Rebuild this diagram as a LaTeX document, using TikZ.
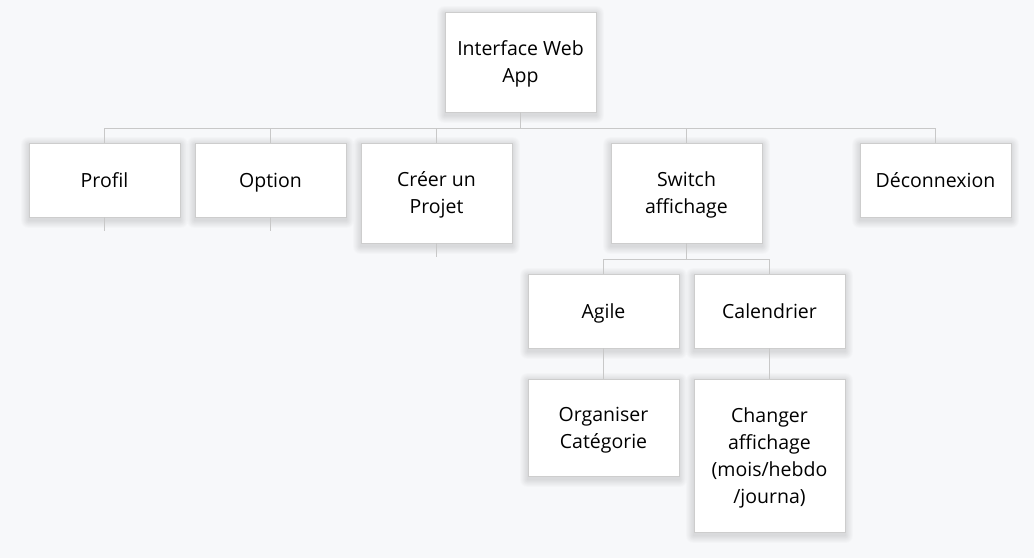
\documentclass[tikz,border=0pt]{standalone}
\usepackage{fontspec}
\setmainfont{Open Sans}
\definecolor{bg}{HTML}{F7F8FA}
\definecolor{edge}{HTML}{C8C8C8}
\definecolor{boxline}{HTML}{CDCDCD}
\definecolor{txt}{HTML}{000000}
\newcommand\sr{\rule[-4.5pt]{0pt}{23.5pt}}
\pgfdeclarelayer{bglayer}
\pgfdeclarelayer{shadowlayer}
\pgfsetlayers{bglayer,shadowlayer,main}
\begin{document}
\begin{tikzpicture}[x=1pt,y=-1pt,
  card/.style={draw=boxline, line width=0.9pt, fill=white, minimum width=151pt,
    text=txt, align=center, inner sep=0pt,
    font=\fontsize{19.5}{27}\selectfont},
  shade layer/.style={fill=black, fill opacity=0.013, rounded corners=#1},
  conn/.style={draw=edge, line width=0.9pt}]
\begin{pgfonlayer}{bglayer}
\useasboundingbox[fill=bg] (0,0) rectangle (1034,558);
\end{pgfonlayer}

\node[card, minimum height=100pt] (root) at (520.5,62) {Interface Web\sr\\App\sr};
\node[card, minimum height=74pt] (profil) at (104.5,180) {Profil\sr};
\node[card, minimum height=74pt] (option) at (270.5,180) {Option\sr};
\node[card, minimum height=100pt] (creer) at (436.5,193) {Créer un\sr\\Projet\sr};
\node[card, minimum height=100pt] (switch) at (686.5,193) {Switch\sr\\affichage\sr};
\node[card, minimum height=74pt] (deco) at (935.5,180) {Déconnexion\sr};
\node[card, minimum height=74pt] (agile) at (603.5,311) {Agile\sr};
\node[card, minimum height=74pt] (cal) at (769.5,311) {Calendrier\sr};
\node[card, minimum height=97pt] (orga) at (603.5,427.5) {Organiser\sr\\Catégorie\sr};
\node[card, minimum height=153pt] (chg) at (769.5,455.5) {Changer\sr\\affichage\sr\\(mois/hebdo\sr\\/journa)\sr};

% soft shadows
\begin{pgfonlayer}{shadowlayer}
\foreach \n in {root,profil,option,creer,switch,deco,agile,cal,orga,chg}
  \foreach \r in {0.5,1.3,...,8.5}
    \path[shade layer=\r pt] ([xshift=-\r pt, yshift=-2pt+\r pt]\n.north west) rectangle ([xshift=\r pt, yshift=-3pt-\r pt]\n.south east);
\end{pgfonlayer}

\coordinate (b1) at (0,128);
\coordinate (b2) at (0,259);

% main bus
\draw[conn] (root.south) -- (root.south |- b1);
\draw[conn] (profil.north |- b1) -- (deco.north |- b1);
\foreach \n in {profil,option,creer,switch,deco}
  \draw[conn] (\n.north) -- (\n.north |- b1);

% stubs
\draw[conn] (profil.south) -- ++(0,14);
\draw[conn] (option.south) -- ++(0,14);
\draw[conn] (creer.south) -- ++(0,14);

% switch sub-bus
\draw[conn] (switch.south) -- (switch.south |- b2);
\draw[conn] (agile.north |- b2) -- (cal.north |- b2);
\draw[conn] (agile.north) -- (agile.north |- b2);
\draw[conn] (cal.north) -- (cal.north |- b2);

\draw[conn] (agile.south) -- (orga.north);
\draw[conn] (cal.south) -- (chg.north);
\end{tikzpicture}
\end{document}
